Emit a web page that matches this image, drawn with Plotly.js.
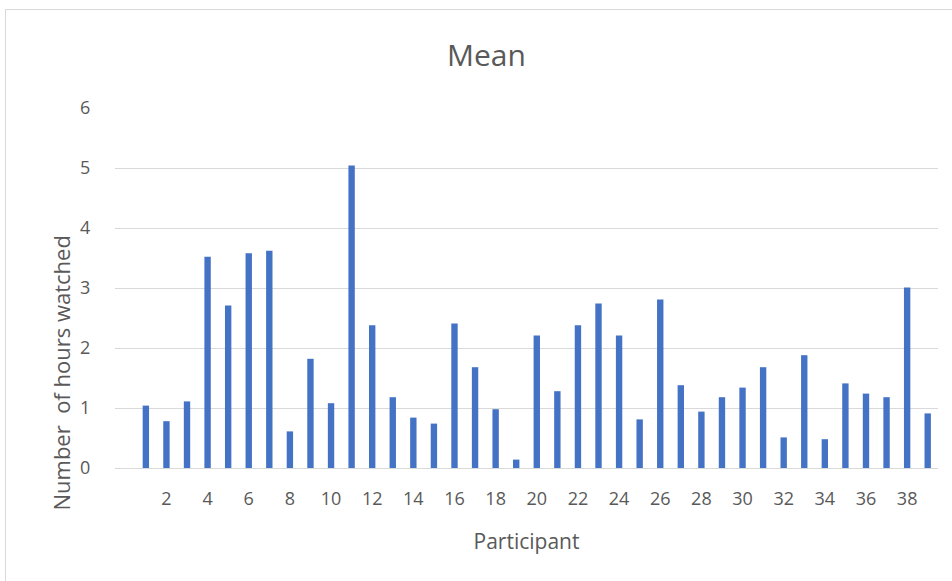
<!DOCTYPE html>
<html>
<head>
<meta charset="utf-8">
<script src="https://cdn.plot.ly/plotly-3.0.1.min.js"></script>
<style>
  html, body { margin: 0; padding: 0; background: #ffffff; }
  #wrap { position: relative; width: 952px; height: 581px; overflow: hidden; }
  #frame { position: absolute; left: 5px; top: 9px; width: 960px; height: 600px;
           border-left: 1px solid #d9d9d9; border-top: 1px solid #d9d9d9; pointer-events: none; }
  #chart { position: absolute; left: 0; top: 0; width: 952px; height: 581px; }
</style>
</head>
<body>
<div id="wrap">
  <div id="chart"></div>
  <div id="frame"></div>
</div>
<script>
const participants = [1,2,3,4,5,6,7,8,9,10,11,12,13,14,15,16,17,18,19,20,21,22,23,24,25,26,27,28,29,30,31,32,33,34,35,36,37,38,39];
const meanHours = [1.04,0.78,1.11,3.52,2.71,3.58,3.62,0.61,1.82,1.08,5.04,2.38,1.18,0.84,0.74,2.41,1.68,0.98,0.14,2.21,1.28,2.38,2.74,2.21,0.81,2.81,1.38,0.94,1.18,1.34,1.68,0.51,1.88,0.48,1.41,1.24,1.18,3.01,0.91];
const xTickVals = [2,4,6,8,10,12,14,16,18,20,22,24,26,28,30,32,34,36,38];
const yTickVals = [0,1,2,3,4,5,6];
const yTitle = 'Number  of hours watched';

const font = "'Open Sans', 'Liberation Sans', sans-serif";
const grey = '#595959';

const data = [{
  type: 'bar',
  x: participants,
  y: meanHours,
  width: 0.31,
  marker: { color: '#4472C4' },
  hoverinfo: 'x+y'
}];

const layout = {
  width: 952, height: 581,
  margin: { l: 115, r: 14, t: 108, b: 113 },
  paper_bgcolor: '#ffffff',
  plot_bgcolor: '#ffffff',
  showlegend: false,
  font: { family: font, color: grey },
  title: {
    text: 'Mean',
    font: { family: font, size: 30, color: grey },
    x: 0.511, xanchor: 'center',
    y: 0.905, yanchor: 'middle'
  },
  xaxis: {
    range: [-0.5, 39.5],
    tickvals: xTickVals,
    ticktext: xTickVals.map(String),
    showgrid: false,
    zeroline: false,
    showline: false,
    ticks: 'outside', ticklen: 14, tickcolor: 'rgba(0,0,0,0)',
    tickfont: { family: font, size: 18, color: grey },
    title: { text: 'Participant', font: { family: font, size: 21, color: grey }, standoff: 25 },
    fixedrange: true
  },
  yaxis: {
    range: [0, 6],
    tickvals: yTickVals,
    showgrid: true,
    gridcolor: '#d9d9d9',
    gridwidth: 1,
    zeroline: true,
    zerolinecolor: '#d9d9d9',
    zerolinewidth: 1,
    showline: false,
    ticks: 'outside', ticklen: 20, tickcolor: 'rgba(0,0,0,0)',
    tickfont: { family: font, size: 18, color: grey },
    fixedrange: true
  },
  annotations: [{
    text: yTitle,
    xref: 'paper', yref: 'paper',
    x: -0.0668, y: 0.2625,
    xanchor: 'center', yanchor: 'middle',
    textangle: -90,
    showarrow: false,
    font: { family: font, size: 22, color: grey }
  }],
  bargap: 0.69
};

Plotly.newPlot('chart', data, layout, { displayModeBar: false, staticPlot: true });
</script>
</body>
</html>
